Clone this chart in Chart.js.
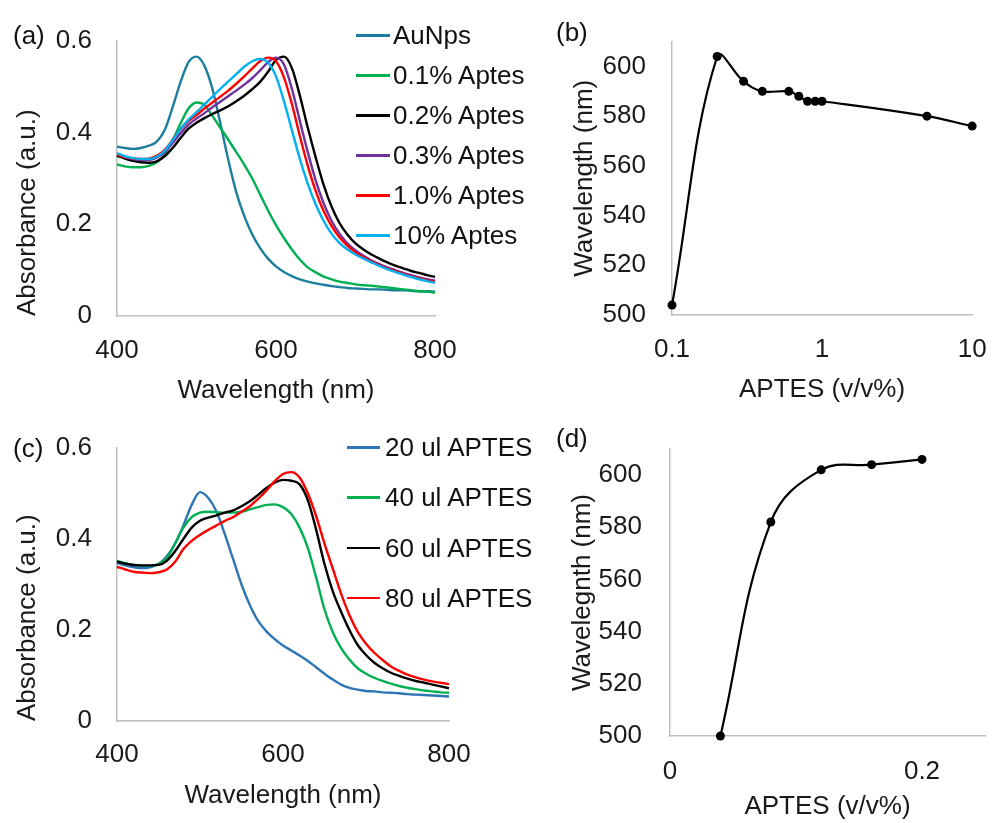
<!DOCTYPE html>
<html>
<head>
<meta charset="utf-8">
<script src="https://cdn.jsdelivr.net/npm/chart.js@4.4.0/dist/chart.umd.min.js"></script>
<style>
  body { margin: 0; background: #fff; }
  #page { position: relative; width: 1006px; height: 823px; overflow: hidden;
          font-family: 'Liberation Sans', Arial, sans-serif; color: #111; }
  #page canvas { position: absolute; left: 0; top: 0; }
  .tag { position: absolute; font-size: 26px; line-height: 30px; z-index: 2; }
  .legend { position: absolute; font-size: 26px; z-index: 2; }
  .legend .row { position: absolute; left: 0; height: 30px; line-height: 30px; white-space: nowrap; }
  .legend .swatch { position: absolute; left: 0; top: 14px; height: 2.5px; }
  .legend .txt { position: absolute; top: 0; }
</style>
</head>
<body>
<div id="page">
  <canvas id="chartA" width="1006" height="823"></canvas>
  <canvas id="chartB" width="1006" height="823"></canvas>
  <canvas id="chartC" width="1006" height="823"></canvas>
  <canvas id="chartD" width="1006" height="823"></canvas>
  <div class="tag" style="left:13px; top:20px;">(a)</div>
  <div class="tag" style="left:556px; top:17px;">(b)</div>
  <div class="tag" style="left:13px; top:433px;">(c)</div>
  <div class="tag" style="left:556px; top:423px;">(d)</div>
  <div class="legend" id="legendA" style="left:356px; top:20px;"></div>
  <div class="legend" id="legendC" style="left:347px; top:432px;"></div>
</div>
<script>
// ---- data ----
var wavelengths = [400, 410, 420, 430, 440, 450, 460, 470, 480, 490, 500, 510, 520, 530, 540,
                   550, 560, 570, 580, 590, 600, 610, 620, 630, 640, 650, 660, 670, 680, 690,
                   700, 710, 720, 730, 740, 750, 760, 770, 780, 790, 800];

// panel (a)
var namesA = ['AuNps', '0.1% Aptes', '0.2% Aptes', '0.3% Aptes', '1.0% Aptes', '10% Aptes'];
var auNps = [.369, .366, .364, .366, .371, .38, .405, .455, .51, .553, .565, .545, .495, .42, .34,
             .27, .218, .178, .148, .125, .108, .096, .087, .08, .075, .071, .068, .065, .063, .061,
             .06, .059, .058, .058, .057, .056, .056, .055, .054, .054, .053];
var aptes01 = [.33, .326, .324, .324, .327, .335, .352, .383, .42, .452, .465, .46, .436, .41, .384,
               .357, .33, .3, .265, .23, .198, .17, .145, .123, .106, .095, .086, .08, .075, .072,
               .069, .067, .066, .064, .062, .06, .058, .056, .054, .053, .051];
var aptes02 = [.349, .343, .338, .335, .334, .337, .348, .366, .388, .408, .421, .431, .44, .448, .457,
               .468, .48, .494, .51, .532, .558, .565, .54, .48, .41, .345, .285, .238, .202, .177,
               .158, .145, .134, .125, .117, .11, .104, .098, .094, .089, .085];
var aptes03 = [.352, .346, .342, .34, .34, .345, .357, .377, .398, .417, .43, .442, .455, .467, .479,
               .491, .504, .518, .535, .553, .563, .548, .495, .425, .357, .295, .245, .207, .179, .158,
               .143, .131, .121, .113, .106, .1, .094, .089, .084, .08, .077];
var aptes1p0 = [.352, .346, .343, .342, .343, .349, .362, .384, .407, .425, .438, .452, .465, .478, .491,
                .506, .522, .539, .555, .563, .555, .52, .462, .392, .327, .272, .228, .196, .171, .153,
                .139, .128, .119, .111, .104, .098, .092, .087, .082, .078, .074];
var aptes10 = [.355, .348, .344, .342, .342, .347, .36, .383, .408, .428, .444, .461, .478, .495, .511,
               .527, .543, .555, .56, .552, .522, .468, .405, .342, .288, .243, .207, .179, .159, .145,
               .134, .125, .117, .109, .102, .096, .09, .085, .08, .076, .072];

// panel (c)
var namesC = ['20 ul APTES', '40 ul APTES', '60 ul APTES', '80 ul APTES'];
var ul20 = [.347, .342, .338, .336, .338, .345, .362, .39, .43, .475, .503, .49, .46, .41, .355,
            .3, .255, .22, .197, .18, .166, .155, .144, .132, .118, .104, .091, .08, .073, .069,
            .066, .065, .063, .062, .061, .059, .058, .057, .056, .055, .054];
var ul40 = [.352, .347, .343, .341, .341, .345, .358, .39, .425, .448, .458, .46, .459, .458, .458,
            .46, .465, .47, .475, .476, .47, .455, .425, .38, .315, .245, .195, .16, .135, .116,
            .104, .095, .088, .082, .077, .073, .07, .067, .065, .063, .062];
var ul60 = [.35, .346, .343, .342, .342, .343, .352, .373, .4, .425, .44, .447, .452, .458, .463,
            .472, .483, .497, .512, .524, .53, .528, .52, .485, .42, .345, .285, .24, .2, .167,
            .145, .128, .116, .106, .099, .093, .088, .084, .08, .076, .072];
var ul80 = [.339, .333, .328, .326, .325, .327, .333, .35, .378, .396, .409, .42, .43, .44, .448,
            .46, .472, .488, .506, .527, .543, .547, .535, .5, .45, .39, .335, .28, .233, .196,
            .17, .15, .134, .12, .11, .102, .096, .091, .087, .084, .081];

// panel (b)
var aptesB = [0.1, 0.2, 0.3, 0.4, 0.6, 0.7, 0.8, 0.9, 1, 5, 10];
var peakB = [504, 604, 594, 590, 590, 588, 586, 586, 586, 580, 576];

// panel (d)
var aptesD = [0.04, 0.08, 0.12, 0.16, 0.2];
var peakD = [500, 582, 602, 604, 606];

// tick labels
var xTicksSpec = [400, 600, 800];
var yTicksSpec = [0, 0.2, 0.4, 0.6];
var xTicksB = [0.1, 1, 10];
var xTicksD = [0, 0.2];
var yTicksPeak = [500, 520, 540, 560, 580, 600];

// ---- styles ----
var colorsA = ['#1c7e9c', '#00b050', '#000000', '#7030a0', '#ff0000', '#00b0f0'];
var colorsC = ['#2e75b6', '#00b050', '#000000', '#ff0000'];

var PAGE_W = 1006, PAGE_H = 823, HALF_LINE = 15.6;
var AXIS_GREY = '#bfbfbf';

Chart.defaults.font.family = "'Liberation Sans', Arial, sans-serif";
Chart.defaults.font.size = 26;
Chart.defaults.color = '#1a1a1a';

function toPoints(xs, ys) {
    return xs.map(function (x, i) { return {x: x, y: ys[i]}; });
}

function spectrumSets(names, colors, values) {
    return values.map(function (vals, i) {
        return {
            label: names[i],
            data: toPoints(wavelengths, vals),
            borderColor: colors[i],
            borderWidth: 2.4,
            pointRadius: 0,
            fill: false,
            cubicInterpolationMode: 'monotone',
            order: values.length - i,   // later series on top, like the original
            clip: false
        };
    });
}

function peakSet(xs, ys) {
    return [{
        data: toPoints(xs, ys),
        borderColor: '#000',
        borderWidth: 2.2,
        pointRadius: 4.5,
        pointBackgroundColor: '#000',
        pointBorderWidth: 0,
        tension: 0.4,
        fill: false,
        clip: false
    }];
}

// box = plot area and label positions of one panel on the page
function makePanel(canvasId, box, datasets, xAxis, yAxis) {
    var padLeft = box.yTitle - HALF_LINE;
    var axisBottom = box.xTitle + HALF_LINE;
    var label = function (v) { return String(v); };
    new Chart(document.getElementById(canvasId), {
        type: 'line',
        data: {datasets: datasets},
        options: {
            responsive: false,
            animation: false,
            events: [],
            layout: {
                padding: {left: padLeft, top: box.t, right: PAGE_W - box.r, bottom: PAGE_H - axisBottom}
            },
            plugins: {legend: {display: false}, tooltip: {enabled: false}},
            scales: {
                x: {
                    type: xAxis.type,
                    min: xAxis.min,
                    max: xAxis.max,
                    grid: {display: false, drawTicks: false},
                    border: {display: true, color: AXIS_GREY, width: 1.5},
                    ticks: {padding: box.xTick - box.b - HALF_LINE, maxRotation: 0, autoSkip: false, callback: label},
                    afterBuildTicks: function (s) { s.ticks = xAxis.ticks.map(function (v) { return {value: v}; }); },
                    afterFit: function (s) { s.height = axisBottom - box.b; },
                    title: {display: true, text: xAxis.title, padding: 0}
                },
                y: {
                    min: yAxis.min,
                    max: yAxis.max,
                    grid: {display: false, drawTicks: false},
                    border: {display: true, color: AXIS_GREY, width: 1.5},
                    ticks: {padding: box.l - box.yTickRight, autoSkip: false, callback: label},
                    afterBuildTicks: function (s) { s.ticks = yAxis.ticks.map(function (v) { return {value: v}; }); },
                    afterFit: function (s) { s.width = box.l - padLeft; },
                    title: {display: true, text: yAxis.title, padding: 0, align: yAxis.align || 'center'}
                }
            }
        }
    });
}

function buildLegend(id, names, colors, swatchW, textLeft, rowStep) {
    var el = document.getElementById(id);
    names.forEach(function (name, i) {
        var row = document.createElement('div');
        row.className = 'row';
        row.style.top = (i * rowStep) + 'px';
        var sw = document.createElement('div');
        sw.className = 'swatch';
        sw.style.width = swatchW + 'px';
        sw.style.background = colors[i];
        var txt = document.createElement('span');
        txt.className = 'txt';
        txt.style.left = textLeft + 'px';
        txt.textContent = name;
        row.appendChild(sw);
        row.appendChild(txt);
        el.appendChild(row);
    });
}

makePanel('chartA',
    {l: 117, r: 435, t: 39, b: 316, yTitle: 28, yTickRight: 92, xTick: 351, xTitle: 391},
    spectrumSets(namesA, colorsA, [auNps, aptes01, aptes02, aptes03, aptes1p0, aptes10]),
    {type: 'linear', min: 400, max: 800, ticks: xTicksSpec, title: 'Wavelength (nm)'},
    {min: 0, max: 0.6, ticks: yTicksSpec, title: 'Absorbance (a.u.)', align: 'start'});

makePanel('chartB',
    {l: 672, r: 988, t: 39, b: 315, yTitle: 585, yTickRight: 646, xTick: 350, xTitle: 390},
    peakSet(aptesB, peakB),
    {type: 'logarithmic', min: 0.1, max: 10, ticks: xTicksB, title: 'APTES (v/v%)'},
    {min: 500, max: 610, ticks: yTicksPeak, title: 'Wavelength (nm)'});

makePanel('chartC',
    {l: 117, r: 449, t: 448, b: 721, yTitle: 28, yTickRight: 92, xTick: 755, xTitle: 796},
    spectrumSets(namesC, colorsC, [ul20, ul40, ul60, ul80]),
    {type: 'linear', min: 400, max: 800, ticks: xTicksSpec, title: 'Wavelength (nm)'},
    {min: 0, max: 0.6, ticks: yTicksSpec, title: 'Absorbance (a.u.)', align: 'start'});

makePanel('chartD',
    {l: 670, r: 985, t: 449, b: 736, yTitle: 583, yTickRight: 642, xTick: 772, xTitle: 807},
    peakSet(aptesD, peakD),
    {type: 'linear', min: 0, max: 0.25, ticks: xTicksD, title: 'APTES (v/v%)'},
    {min: 500, max: 610, ticks: yTicksPeak, title: 'Wavelegnth (nm)'});

buildLegend('legendA', namesA, colorsA, 34, 37, 40);
buildLegend('legendC', namesC, colorsC, 33, 38, 50.3);
</script>
</body>
</html>
